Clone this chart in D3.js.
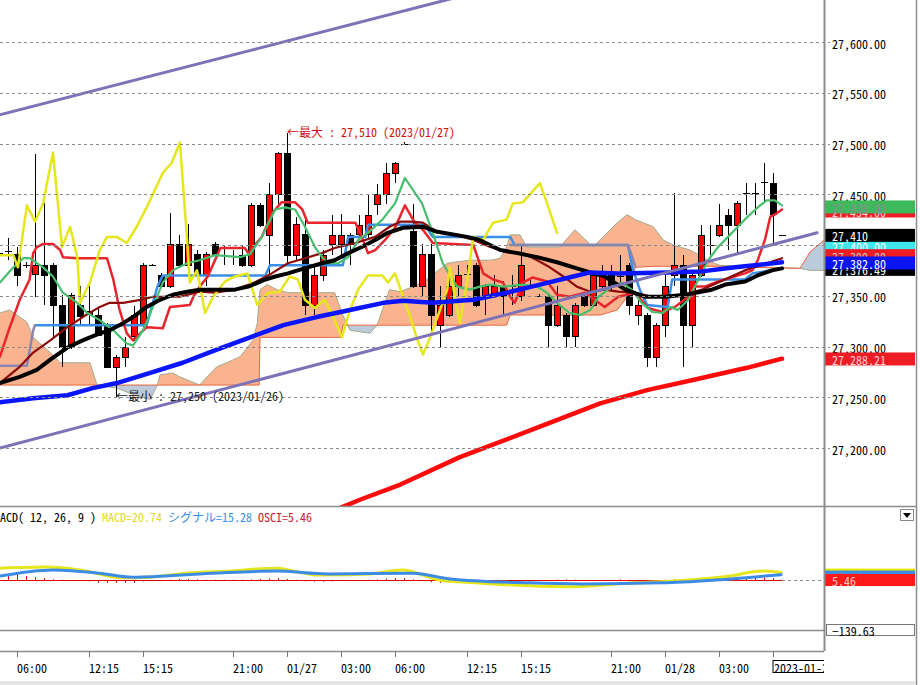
<!DOCTYPE html>
<html><head><meta charset="utf-8">
<script src="https://cdn.jsdelivr.net/npm/d3@7"></script>
<style>
body{margin:0;background:#fff;overflow:hidden}
svg{display:block}
text{font-family:'Noto Sans Mono CJK JP','Noto Sans CJK JP','DejaVu Sans Mono',monospace;font-size:12px}
</style></head>
<body><svg id="c" width="920" height="685"></svg>
<script>
// ---------- DATA ----------
const opens  = [27392,27393,27391,27380,27371,27380,27380,27341,27300,27341,27332,27331,27321,27280,27290,27310,27321,27380,27370,27360,27401,27380,27391,27370,27401,27391,27390,27390,27380,27439,27410,27450,27491,27390,27411,27341,27370,27401,27401,27410,27411,27411,27440,27450,27471,27500,27414,27360,27391,27321,27331,27360,27370,27380,27350,27350,27360,27361,27350,27362,27351,27350,27321,27331,27310,27350,27341,27360,27370,27370,27380,27331,27331,27290,27321,27370,27380,27321,27370,27401,27410,27430,27420,27450,27450,27461,27461,27410];
const highs  = [27396,27407,27398,27383,27490,27441,27382,27351,27353,27360,27360,27339,27323,27292,27309,27340,27382,27381,27372,27432,27410,27421,27395,27393,27403,27400,27395,27400,27441,27441,27461,27492,27510,27428,27430,27380,27395,27430,27431,27412,27430,27450,27460,27481,27482,27501,27440,27401,27401,27360,27370,27380,27380,27382,27362,27370,27365,27370,27400,27366,27352,27352,27360,27333,27343,27352,27372,27380,27380,27390,27382,27349,27333,27323,27370,27451,27390,27375,27420,27420,27440,27435,27443,27461,27461,27481,27471,27410];
const lows   = [27388,27385,27360,27377,27349,27341,27309,27280,27298,27321,27322,27310,27279,27250,27280,27305,27318,27379,27358,27358,27378,27370,27368,27360,27389,27380,27380,27378,27378,27418,27370,27440,27380,27385,27331,27331,27365,27390,27390,27380,27408,27405,27430,27440,27461,27499,27358,27350,27311,27300,27329,27350,27368,27339,27331,27348,27331,27341,27345,27358,27349,27300,27319,27300,27300,27339,27339,27358,27355,27360,27331,27321,27280,27280,27309,27360,27280,27300,27368,27390,27408,27395,27390,27430,27430,27443,27402,27410];
const closes = [27392,27394,27370,27380,27380,27370,27341,27300,27351,27330,27335,27311,27280,27290,27300,27331,27380,27380,27360,27401,27380,27401,27370,27391,27391,27390,27389,27380,27439,27420,27450,27491,27390,27421,27341,27370,27390,27410,27410,27401,27420,27430,27450,27471,27481,27500,27360,27391,27331,27341,27360,27370,27371,27341,27360,27360,27350,27360,27380,27361,27350,27321,27341,27310,27341,27341,27370,27370,27360,27369,27341,27341,27290,27321,27360,27380,27321,27370,27410,27400,27420,27420,27441,27451,27451,27462,27431,27410];

const priceTicks = [27200,27250,27300,27350,27400,27450,27500,27550,27600];
const timeTicks  = [2,10,16,26,32,38,44,52,58,68,74,80];
const timeLabels = ["06:00","12:15","15:15","21:00","01/27","03:00","06:00","12:15","15:15","21:00","01/28","03:00"];
const lastTimeIndex = 86, lastTimeLabel = "2023-01-28 06:00";

// [bar index, price]
const ma5 = [[0.1,27363],[1.6,27378],[2.7,27387],[3.4,27387],[4.9,27378],[6,27369],[7.1,27353],[8.7,27343],[9.8,27333],[11.2,27326],[12.7,27316],[14.2,27303],[14.9,27301],[16,27316],[17.1,27339],[18.2,27363],[19.3,27375],[20.9,27382],[22.3,27385],[24,27390],[26.8,27388],[27.9,27391],[29.2,27408],[30.7,27435],[31.8,27437],[32.9,27435],[34,27418],[35.1,27398],[35.9,27388],[36.6,27382],[37.7,27382],[38.8,27388],[39.9,27405],[41,27412],[42.6,27425],[44,27441],[45.1,27466],[47,27441],[48.2,27412],[49.3,27382],[50.9,27359],[52.3,27356],[53.4,27359],[54.6,27361],[56,27359],[58.2,27361],[59.8,27359],[60.9,27353],[62,27343],[63.4,27333],[64.6,27331],[65.7,27336],[66.6,27349],[68.1,27359],[69.2,27363],[70.3,27356],[71.4,27343],[72.6,27334],[73.7,27333],[74.6,27339],[75.4,27336],[76.6,27346],[77.7,27366],[78.8,27385],[79.9,27398],[81,27408],[82.1,27418],[83.2,27428],[84.3,27437],[85.3,27444],[86.2,27444],[87,27439]];
const tenkan = [[0.1,27290],[1.2,27319],[2.3,27346],[3.4,27366],[3.8,27392],[4.2,27398],[4.9,27401],[6,27401],[6.8,27395],[7.1,27388],[8.7,27387],[12,27387],[12.7,27366],[13.4,27336],[14.2,27313],[14.9,27306],[15.7,27313],[16.4,27319],[18.2,27318],[19,27339],[21.2,27341],[21.6,27349],[22.3,27359],[23.2,27369],[24.6,27397],[27.3,27397],[27.7,27392],[29.2,27408],[30.4,27432],[31.4,27442],[32.9,27442],[33.7,27435],[34.3,27422],[39.6,27422],[40.3,27408],[41,27392],[41.8,27395],[42.9,27405],[44,27417],[45.1,27439],[46.2,27422],[47.1,27415],[48.2,27402],[52.7,27400],[53.8,27372],[54.9,27366],[56,27363],[56.8,27349],[57.3,27343],[58.2,27363],[59.3,27368],[60.9,27364],[62,27351],[63.4,27349],[65.1,27353],[67.3,27339],[68.8,27349],[70.7,27353],[72.1,27338],[73.7,27334],[75.1,27339],[76.6,27349],[77.3,27359],[78.4,27359],[79.9,27364],[82.9,27372],[83.7,27375],[84.3,27385],[85.1,27405],[85.7,27428],[86.2,27430],[87,27435]];
const kijun = [[4,27321],[16.4,27321],[17.6,27359],[18.2,27370],[29.6,27370],[30.1,27380],[38.2,27380],[38.8,27408],[40.7,27408],[41,27420],[47.3,27420],[48.2,27408],[56.8,27408],[57.3,27400],[69.9,27400],[70.4,27377],[71.2,27356],[72,27341],[74.3,27339],[74.8,27366],[82.9,27366],[83.7,27372],[87,27377]];
const lavender = [[0.1,27281],[3.1,27281],[3.8,27316],[4,27321],null,[56.8,27400],[69.9,27400],[70.7,27379]];
const maroon = [[0.1,27264],[2.3,27280],[3.8,27294],[5.7,27306],[7.6,27319],[9.3,27329],[11.2,27339],[12.3,27343],[13.8,27343],[15.7,27346],[17.1,27349],[20.1,27349],[22.3,27354],[24,27353],[26.2,27356],[28.4,27363],[30.3,27372],[32.1,27382],[34,27387],[35.9,27392],[37.3,27397],[39.6,27402],[41.8,27408],[43.4,27418],[44.6,27423],[45.7,27423],[47.1,27422],[48.7,27413],[50.9,27410],[52.7,27405],[54.6,27398],[56.4,27393],[58.2,27392],[59.8,27385],[61.2,27378],[62.7,27369],[64.2,27359],[65.7,27354],[67.3,27356],[68.8,27354],[70.7,27353],[72.6,27349],[74.3,27349],[76.2,27351],[78.1,27356],[82.9,27375],[87,27387]];
const maBlack = [[0.1,27264],[2.3,27270],[4.2,27277],[5.7,27287],[7.6,27299],[9.3,27306],[11.2,27313],[12.3,27316],[13.8,27323],[14.9,27329],[16.4,27339],[17.9,27346],[19.3,27351],[20.9,27354],[22.3,27356],[26.2,27356],[27.7,27359],[29.6,27366],[30.7,27369],[32.1,27372],[34.3,27378],[35.9,27382],[37.3,27385],[38.8,27392],[40.3,27398],[41.8,27405],[43.2,27412],[44.9,27417],[47.1,27418],[48.7,27413],[52,27408],[53.4,27405],[55.7,27395],[57.6,27392],[59.8,27388],[62,27383],[64.2,27377],[65.7,27373],[67.3,27369],[69.6,27356],[71.8,27349],[74,27349],[76.2,27351],[79.2,27356],[80.7,27361],[82.9,27364],[84.3,27370],[85.9,27375],[87,27377]];
const maBlue = [[0.1,27245],[3.8,27249],[7.6,27252],[10.4,27259],[13.1,27264],[16.8,27274],[20.4,27284],[24.2,27297],[27.9,27309],[31.6,27321],[35.3,27329],[39,27336],[42.7,27343],[44.9,27345],[48.2,27343],[52.7,27346],[56.4,27353],[60.1,27361],[63.8,27369],[65.7,27373],[68.8,27372],[74.3,27373],[78.1,27374],[81.8,27378],[87,27383]];
const maRed = [[36.8,27137],[40.1,27149],[44.6,27164],[51.2,27191],[60.1,27221],[66.8,27244],[72,27257],[77.1,27267],[83.1,27279],[87,27288]];
const chikou = [[0.1,27390],[1.6,27390],[2.1,27378],[3.1,27439],[4,27423],[4.9,27441],[6,27491],[7,27398],[7.9,27418],[8.7,27388],[9,27343],[10.1,27363],[11.2,27395],[12,27408],[13.1,27408],[14.2,27402],[15.3,27418],[16.4,27437],[18.2,27471],[19.2,27481],[20.1,27501],[20.9,27405],[21.2,27363],[22,27375],[22.9,27333],[23.8,27349],[25.1,27364],[26.2,27369],[27.6,27372],[28.7,27341],[29.9,27353],[31.2,27354],[32.3,27369],[33.2,27366],[34,27346],[35.1,27338],[36.2,27346],[37.3,27326],[38.1,27309],[39,27336],[39.9,27356],[41,27370],[42.6,27370],[43.2,27363],[44,27372],[44.9,27349],[45.7,27329],[46.4,27309],[47.1,27292],[47.9,27309],[49,27336],[49.8,27356],[50.1,27378],[50.7,27346],[51.2,27323],[52,27363],[52.7,27408],[53.8,27405],[54.9,27422],[56.4,27425],[57.1,27441],[58.2,27442],[60.1,27461],[60.9,27441],[62,27412]];
const cloudIdx = [0.1,1.2,3.1,3.8,5.7,6.8,10.1,10.9,13.1,15.7,16.8,17.6,17.9,19.3,20.1,22.3,23.1,24.2,25.3,26.8,28.2,28.7,28.9,29.0,29.8,30.9,32.1,37.3,38.0,38.2,39.0,41.2,42.0,43.4,44.6,47.1,49.8,52.3,54.6,55.7,56.4,56.8,57.9,58.6,62.3,64.0,66.0,66.8,68.7,69.8,70.7,72.7,73.8,74.9,76.8,79.2,80.1,82.9,89.0,90.1,91.7];
const spanA = [27333,27336,27324,27309,27294,27284,27284,27262,27259,27250,27248,27262,27272,27274,27270,27262,27270,27280,27284,27290,27306,27323,27346,27356,27361,27356,27353,27353,27336,27331,27316,27313,27321,27356,27354,27363,27382,27385,27385,27387,27398,27410,27410,27398,27398,27415,27398,27405,27422,27430,27425,27418,27405,27400,27395,27383,27380,27379,27377,27375,27375];
const spanB = [27262,27262,27262,27262,27262,27262,27262,27262,27262,27262,27262,27262,27262,27262,27262,27262,27262,27262,27262,27262,27262,27262,27262,27309,27309,27309,27309,27309,27309,27321,27321,27321,27321,27321,27321,27321,27321,27321,27321,27321,27321,27331,27331,27331,27331,27331,27331,27331,27336,27349,27378,27379,27379,27379,27379,27379,27379,27378,27377,27393,27405];
const trendUpper = [[0,27528],[91.6,27737]];
const trendLower = [[0.1,27200],[90.9,27412]];

const macdLine = [[0.1,33],[5.4,36],[9,28],[13.7,6],[16.8,8],[20.7,19],[25.7,25],[30.7,33],[35.4,14],[41.2,17],[44.8,28],[48.9,0],[53,-8],[63,-19],[70.7,-8],[76.6,0],[81.2,11],[84.8,25],[86.9,21]];
const signalLine = [[0.1,11],[6,28],[11.2,19],[14.8,8],[23.7,19],[30.7,25],[36.6,17],[46,19],[50.1,3],[58.9,-8],[64.8,-11],[73.7,-8],[79.6,0],[86.9,15]];
const osci = [8,11,14,11,8,5,2,1,0,-2,-4,-8,-8,-8,-8,-8,-4,-2,0,1,3,3,2,1,1,1,1,1,2,3,4,5,3,1,-4,-5,-5,-4,-2,-1,0,1,2,4,5,5,2,-2,-6,-8,-8,-8,-8,-8,-8,-7,-7,-6,-5,-4,-2,-1,1,2,1,0,-1,-1,0,2,1,0,-1,0,1,2,3,4,6,8,8,9,9,9,8,7,5];
const macdMin = -139.63;
const macdTitle = "MACD( 12, 26, 9 ) ", macdText = "MACD=20.74 ", signalText = "シグナル=15.28 ", osciText = "OSCI=5.46";

const priceTags = [
  {v:27376.49, t:"27,376.49", bg:"#000000", fg:"#ffffff"},
  {v:27434.00, t:"27,434.00", bg:"#ee1c24", fg:"#ffd0d0"},
  {v:27438.00, t:"27,438.00", bg:"#3cba5c", fg:"#8c8c8c"},
  {v:27400.00, t:"27,400.00", bg:"#3ee6ee", fg:"#ffffff"},
  {v:27390.00, t:"27,390.00", bg:"#ee1c24", fg:"#c8c8c8"},
  {v:27382.80, t:"27,382.80", bg:"#0a14f0", fg:"#ffffff"},
  {v:27410,    t:"27,410",    bg:"#000000", fg:"#ffffff"},
  {v:27288.21, t:"27,288.21", bg:"#ee1c24", fg:"#ffd0d0"}
];
const macdTags = [
  {v:20.74, t:"20.74", bg:"#e8e800", fg:"#888"},
  {v:15.28, t:"15.28", bg:"#3c8ce6", fg:"#888"},
  {v:5.46,  t:"5.46",  bg:"#ff1a1a", fg:"#ffc8c8"}
];

// ---------- SCALES ----------
const W=920,H=685, plotR=824, mainB=506, macdB=630, axisY=651;
const xs = d3.scaleLinear().domain([0,86]).range([-1,773]);
const ys = d3.scaleLinear().domain([27200,27600]).range([448,42]);
const ym = d3.scaleLinear().domain([macdMin,0]).range([macdB,580]);

const svg = d3.select("#c");
const defs = svg.append("defs");
defs.append("clipPath").attr("id","clipMain").append("rect").attr("x",0).attr("y",0).attr("width",plotR).attr("height",mainB);
defs.append("clipPath").attr("id","clipMacd").append("rect").attr("x",0).attr("y",mainB).attr("width",plotR).attr("height",macdB-mainB);

const cloud = cloudIdx.map((i,k)=>({i,a:spanA[k],b:spanB[k]}));
defs.append("clipPath").attr("id","cAbove").append("path")
  .attr("d", d3.area().x(d=>xs(d.i)).y0(0).y1(d=>ys(d.b))(cloud));
defs.append("clipPath").attr("id","cBelow").append("path")
  .attr("d", d3.area().x(d=>xs(d.i)).y0(d=>ys(d.b)).y1(mainB)(cloud));

const main = svg.append("g").attr("clip-path","url(#clipMain)");
const areaAB = d3.area().x(d=>xs(d.i)).y0(d=>ys(d.a)).y1(d=>ys(d.b));
main.append("path").attr("d",areaAB(cloud)).attr("fill","#f9b48f").attr("clip-path","url(#cAbove)");
main.append("path").attr("d",areaAB(cloud)).attr("fill","#bccbdb").attr("clip-path","url(#cBelow)");

const pl = d3.line().defined(d=>d!=null).x(d=>xs(d[0])).y(d=>ys(d[1]));
main.append("path").attr("d",d3.line().x(d=>xs(d.i)).y(d=>ys(d.a))(cloud)).attr("fill","none").attr("stroke","#a3aa8c").attr("stroke-width",1);
main.append("path").attr("d",d3.line().x(d=>xs(d.i)).y(d=>ys(d.b))(cloud)).attr("fill","none").attr("stroke","#e8643c").attr("stroke-width",1);

// grid
priceTicks.forEach(p=>{
  const y=Math.round(ys(p))+0.5;
  svg.append("line").attr("x1",0).attr("x2",830).attr("y1",y).attr("y2",y)
    .attr("stroke","#8a8a8a").attr("stroke-dasharray","3,3").attr("stroke-width",1);
});

// candles
const cg = main.append("g");
opens.forEach((o,i)=>{
  const c=closes[i],h=highs[i],l=lows[i];
  const xc=Math.round(xs(i));
  if(h-l>0.5) cg.append("line").attr("x1",xc+0.5).attr("x2",xc+0.5).attr("y1",Math.round(ys(h))).attr("y2",Math.round(ys(l))).attr("stroke","#000").attr("stroke-width",1);
  if(Math.abs(o-c)<=1.5){
    const y=Math.round(ys(c))+0.5;
    cg.append("line").attr("x1",xc-3).attr("x2",xc+4).attr("y1",y).attr("y2",y).attr("stroke","#000").attr("stroke-width",1);
  } else {
    const yt=Math.round(ys(Math.max(o,c))), yb=Math.round(ys(Math.min(o,c)));
    if(c>o) cg.append("rect").attr("x",xc-2.5).attr("y",yt+0.5).attr("width",6).attr("height",yb-yt).attr("fill","#ff0000").attr("stroke","#000").attr("stroke-width",1);
    else cg.append("rect").attr("x",xc-3).attr("y",yt).attr("width",7).attr("height",yb-yt+1).attr("fill","#000");
  }
});

function drawLine(g,data,color,w,fn){
  g.append("path").attr("d",(fn||pl)(data)).attr("fill","none").attr("stroke",color).attr("stroke-width",w)
   .attr("stroke-linejoin","round").attr("stroke-linecap","round");
}
drawLine(main,kijun,"#3a8ee8",2.5);
drawLine(main,lavender,"#8a86b2",2.5);
drawLine(main,tenkan,"#e8242c",2.5);
drawLine(main,maroon,"#8c0c0c",2.2);
drawLine(main,ma5,"#46be6e",2.2);
drawLine(main,chikou,"#e6e61c",2.5);
drawLine(main,maBlack,"#000000",4);
drawLine(main,maBlue,"#0a14ff",4.5);
drawLine(main,maRed,"#ff0a0a",4.5);
drawLine(main,trendUpper,"#7b72b8",3);
drawLine(main,trendLower,"#7b72b8",3);

// max / min annotations
const iMax = d3.maxIndex(highs), iMin = d3.minIndex(lows);
svg.append("text").attr("x",xs(iMax)).attr("y",ys(highs[iMax])-2).attr("dominant-baseline","central")
  .attr("fill","#d01010").text("←最大 : "+d3.format(",")(highs[iMax])+" (2023/01/27)");
svg.append("text").attr("x",xs(iMin)).attr("y",ys(lows[iMin])-2).attr("dominant-baseline","central")
  .attr("fill","#202020").text("←最小 : "+d3.format(",")(lows[iMin])+" (2023/01/26)");

// right axis labels
priceTicks.forEach(p=>{
  svg.append("text").attr("x",832).attr("y",ys(p)+1).attr("dominant-baseline","central").attr("fill","#000").text(d3.format(",.2f")(p));
});
priceTags.forEach(t=>{
  const y=ys(t.v);
  svg.append("rect").attr("x",825).attr("y",y-6).attr("width",90).attr("height",13).attr("fill",t.bg);
  svg.append("text").attr("x",832).attr("y",y+1).attr("dominant-baseline","central").attr("fill",t.fg).text(t.t);
});

// ---------- MACD panel ----------
const mg = svg.append("g").attr("clip-path","url(#clipMacd)");
mg.append("line").attr("x1",0).attr("x2",xs(87)).attr("y1",ym(0)+0.5).attr("y2",ym(0)+0.5).attr("stroke","#e00000");
svg.append("line").attr("x1",xs(87)).attr("x2",plotR).attr("y1",ym(0)+0.5).attr("y2",ym(0)+0.5).attr("stroke","#8a8a8a").attr("stroke-dasharray","3,3");
osci.forEach((v,i)=>{
  const xc=Math.round(xs(i))+0.5;
  mg.append("line").attr("x1",xc).attr("x2",xc).attr("y1",ym(0)).attr("y2",ym(v)).attr("stroke","#e00000");
});
const ml = d3.line().x(d=>xs(d[0])).y(d=>ym(d[1])).curve(d3.curveMonotoneX);
drawLine(mg,macdLine,"#e6e61c",3,ml);
drawLine(mg,signalLine,"#3c8ce6",3,ml);

const title = svg.append("text").attr("x",-6).attr("y",516).attr("dominant-baseline","central");
title.append("tspan").attr("fill","#000").text(macdTitle);
title.append("tspan").attr("fill","#e6d81c").text(macdText);
title.append("tspan").attr("fill","#3c8ce6").text(signalText);
title.append("tspan").attr("fill","#d01830").text(osciText);

macdTags.forEach(t=>{
  const y=ym(t.v);
  svg.append("rect").attr("x",825).attr("y",y-4).attr("width",90).attr("height",12).attr("fill",t.bg);
  svg.append("text").attr("x",832).attr("y",y+2).attr("dominant-baseline","central").attr("fill",t.fg).text(t.t);
});
svg.append("rect").attr("x",826.5).attr("y",624.5).attr("width",88).attr("height",11).attr("fill","#fff").attr("stroke","#777");
svg.append("text").attr("x",832).attr("y",630.5).attr("dominant-baseline","central").text(d3.format(".2f")(macdMin));
// dropdown button
svg.append("rect").attr("x",900.5).attr("y",509.5).attr("width",13).attr("height",11).attr("fill","#fff").attr("stroke","#888");
svg.append("path").attr("d","M903,513 L911,513 L907,518 Z").attr("fill","#000");

// ---------- frames ----------
svg.append("line").attr("x1",0).attr("x2",916).attr("y1",mainB+0.5).attr("y2",mainB+0.5).attr("stroke","#8c8c8c").attr("stroke-width",1.5);
svg.append("line").attr("x1",0).attr("x2",plotR).attr("y1",macdB+0.5).attr("y2",macdB+0.5).attr("stroke","#8c8c8c").attr("stroke-width",1.5);
svg.append("line").attr("x1",0).attr("x2",plotR).attr("y1",axisY+0.5).attr("y2",axisY+0.5).attr("stroke","#8c8c8c").attr("stroke-width",1.5);
svg.append("line").attr("x1",plotR+0.5).attr("x2",plotR+0.5).attr("y1",0).attr("y2",axisY).attr("stroke","#8c8c8c").attr("stroke-width",2);
svg.append("line").attr("x1",916.5).attr("x2",916.5).attr("y1",0).attr("y2",H).attr("stroke","#8c8c8c").attr("stroke-width",1.5);

// x axis
timeTicks.forEach((i,k)=>{
  const x=Math.round(xs(i))+0.5;
  svg.append("line").attr("x1",x).attr("x2",x).attr("y1",axisY).attr("y2",axisY+6).attr("stroke","#777");
  svg.append("text").attr("x",x-0.5).attr("y",667).attr("dominant-baseline","central").text(timeLabels[k]);
});
{
  const x=Math.round(xs(lastTimeIndex))+0.5;
  svg.append("line").attr("x1",x).attr("x2",x).attr("y1",axisY).attr("y2",axisY+6).attr("stroke","#777");
  defs.append("clipPath").attr("id","clipAx").append("rect").attr("x",0).attr("y",640).attr("width",plotR).attr("height",45);
  const g=svg.append("g").attr("clip-path","url(#clipAx)");
  g.append("rect").attr("x",x-0.5).attr("y",660.5).attr("width",120).attr("height",12).attr("fill","#fff").attr("stroke","#000");
  g.append("text").attr("x",x+0.5).attr("y",667).attr("dominant-baseline","central").text(lastTimeLabel);
}
// bottom scrollbar strip
svg.append("rect").attr("x",0).attr("y",681).attr("width",916).attr("height",4).attr("fill","#e4e4e4");
</script></body></html>
